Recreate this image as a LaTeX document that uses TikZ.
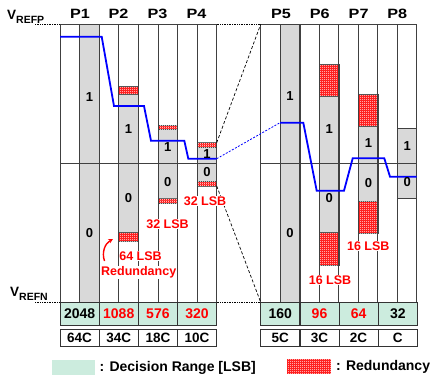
\documentclass[tikz,border=0pt]{standalone}
\usepackage{fontspec}
\setmainfont{Liberation Sans}
\usetikzlibrary{patterns,arrows.meta,positioning,calc}

\definecolor{bargray}{RGB}{217,217,217}
\definecolor{decgreen}{RGB}{204,236,222}

\pgfdeclarepatternformonly{finechecker}{\pgfpointorigin}{\pgfqpoint{2pt}{2pt}}{\pgfqpoint{2pt}{2pt}}{
    \pgfpathrectangle{\pgfpointorigin}{\pgfqpoint{1pt}{1pt}}
    \pgfpathrectangle{\pgfqpoint{1pt}{1pt}}{\pgfqpoint{1pt}{1pt}}
    \pgfusepath{fill}}

\newcommand{\widetext}[1]{\scalebox{1.2}[1]{#1}}

\begin{document}
\begin{tikzpicture}[
    x=1pt, y=-1pt,
    grid/.style={draw=black!75, line width=0.8pt},
    bar/.style={draw=black!75, line width=0.8pt, fill=bargray},
    redund/.style={draw=black!75, line width=0.8pt, fill=red, postaction={pattern=finechecker, pattern color=white}},
    bit/.style={font=\fontsize{13}{13}\selectfont\bfseries, inner sep=0pt},
    plab/.style={font=\fontsize{13.5}{13.5}\selectfont\bfseries, anchor=base},
    deccell/.style={draw=black!80, line width=0.8pt, fill=decgreen, minimum width=39.17pt, minimum height=23.4pt, inner sep=0pt, font=\fontsize{14}{14}\selectfont\bfseries},
    capcell/.style={draw=black!80, line width=0.8pt, fill=white, minimum width=39.17pt, minimum height=17.4pt, inner sep=0pt, font=\fontsize{13.5}{13.5}\selectfont\bfseries},
    note/.style={text=red, fill=white, font=\fontsize{12.5}{12.5}\selectfont\bfseries, inner sep=0.5pt},
    vref/.style={anchor=base west, inner sep=0pt, font=\bfseries},
    legtext/.style={anchor=west, inner sep=0pt, font=\fontsize{14}{14}\selectfont\bfseries},
    trace/.style={draw=blue, line width=1.8pt},
    zoomline/.style={draw=black, line width=0.7pt, dash pattern=on 3pt off 2pt},
    refline/.style={draw=black, line width=0.7pt, densely dotted}
]
    \useasboundingbox (0,0) rectangle (439,381);

    % gray bars and redundancy, left group
    \draw[bar] (79.6,24.3) rectangle (99.2,302.3);
    \draw[bar] (118.8,94.3) rectangle (138.3,232.7);
    \draw[redund] (118.8,86) rectangle (138.3,94.3);
    \draw[redund] (118.8,232.7) rectangle (138.3,241.7);
    \draw[bar] (157.9,129.3) rectangle (177.5,198.7);
    \draw[redund] (157.9,125.3) rectangle (177.5,129.3);
    \draw[redund] (157.9,198.7) rectangle (177.5,203.3);
    \draw[bar] (197.1,147) rectangle (216.7,181.7);
    \draw[redund] (197.1,142.7) rectangle (216.7,147);
    \draw[redund] (197.1,181.7) rectangle (216.7,186);

    % gray bars and redundancy, right group
    \draw[bar] (280.3,24.3) rectangle (299.9,302.3);
    \draw[bar] (319.5,96.7) rectangle (339,232.7);
    \draw[redund] (319.5,64.3) rectangle (339,96.7);
    \draw[redund] (319.5,232.7) rectangle (339,265.7);
    \draw[bar] (358.6,126.7) rectangle (378.2,201);
    \draw[redund] (358.6,94.3) rectangle (378.2,126.7);
    \draw[redund] (358.6,201) rectangle (378.2,233.3);
    \draw[bar] (397.8,128.7) rectangle (416.7,198.3);

    % column lines and frames
    \foreach \k in {1,...,7} {
        \draw[grid] (60+19.585*\k,24.3) -- (60+19.585*\k,302.3);
        \draw[grid] (260.7+19.5*\k,24.3) -- (260.7+19.5*\k,302.3);
    }
    \draw[grid] (60,163.3) -- (216.7,163.3);
    \draw[grid] (260.7,163.3) -- (416.7,163.3);
    \draw[grid] (60,24.3) rectangle (216.7,302.3);
    \draw[grid] (260.7,24.3) rectangle (416.7,302.3);

    % reference levels
    \draw[refline] (35,24.3) -- (60,24.3);
    \draw[refline] (216.7,24.3) -- (260.7,24.3);
    \draw[refline] (35,302.3) -- (60,302.3);
    \draw[refline] (216.7,302.3) -- (260.7,302.3);
    \node[vref] (vrefp) at (7,19.3) {{\fontsize{13.5}{13.5}\selectfont V}{\fontsize{10.5}{10.5}\selectfont\raisebox{-4pt}{REFP}}};
    \node[vref] (vrefn) at (10,296.7) {{\fontsize{13.5}{13.5}\selectfont V}{\fontsize{10.5}{10.5}\selectfont\raisebox{-4pt}{REFN}}};

    % zoom lines
    \coordinate (p4top) at (216.7,142.7);
    \coordinate (p4bot) at (216.7,186);
    \coordinate (rtop) at (260.7,24.3);
    \coordinate (rbot) at (260.7,302.3);
    \draw[zoomline] (p4top) -- (rtop);
    \draw[zoomline] (p4bot) -- (rbot);

    % DAC output
    \draw[trace] (60,36.7) -- (101.7,36.7) -- (114,106) -- (144,106) -- (151,140.7)
        -- (184.3,140.7) -- (188.3,158.7) -- (216.7,158.7);
    \draw[blue, line width=0.8pt, dash pattern=on 2pt off 1.5pt] (216.7,158.7) -- (280,122.7);
    \draw[trace] (280,122.7) -- (303.3,122.7) -- (316.7,190.7) -- (344,190.7) -- (352.7,158.3)
        -- (384.3,158.3) -- (390,176.7) -- (416.7,176.7);

    % phase labels
    \node[plab] (P1) at (80,18.3) {\widetext{P1}};
    \node[plab] (P2) at (118.5,18.3) {\widetext{P2}};
    \node[plab] (P3) at (157.5,18.3) {\widetext{P3}};
    \node[plab] (P4) at (196.5,18.3) {\widetext{P4}};
    \node[plab] (P5) at (281,18.3) {\widetext{P5}};
    \node[plab] (P6) at (319.7,18.3) {\widetext{P6}};
    \node[plab] (P7) at (358.6,18.3) {\widetext{P7}};
    \node[plab] (P8) at (397.3,18.3) {\widetext{P8}};

    % bit labels
    \node[bit] (b1h) at (89.4,96.7) {1};
    \node[bit] (b1l) at (89.4,233) {0};
    \node[bit] (b2h) at (128.5,129.3) {1};
    \node[bit] (b2l) at (128.5,198.3) {0};
    \node[bit] (b3h) at (167.7,146.7) {1};
    \node[bit] (b3l) at (167.7,181.7) {0};
    \node[bit] (b4h) at (206.9,154) {1};
    \node[bit] (b4l) at (206.9,172.3) {0};
    \node[bit] (b5h) at (290.1,95.7) {1};
    \node[bit] (b5l) at (290.1,233) {0};
    \node[bit] (b6h) at (329.3,129.3) {1};
    \node[bit] (b6l) at (329.3,198.3) {0};
    \node[bit] (b7h) at (368.4,142.7) {1};
    \node[bit] (b7l) at (368.4,182.7) {0};
    \node[bit] (b8h) at (407.3,145.7) {1};
    \node[bit] (b8l) at (407.3,181.7) {0};

    % redundancy notes
    \node[note] (n1) at (205,201) {32 LSB};
    \node[note] (n2) at (167.5,224) {32 LSB};
    \node[note] (n3) at (140.5,256) {64 LSB};
    \node[note] (n4) at (138.7,272.5) {Redundancy};
    \node[note] (n5) at (330,280) {16 LSB};
    \node[note] (n6) at (368.3,246.3) {16 LSB};
    \coordinate (a1) at (104.5,261);
    \coordinate (a2) at (113,239);
    \draw[red, line width=1.4pt, -{Stealth[length=4.5pt,width=4.5pt]}] (a1) to[bend left=40] (a2);

    % decision range row
    \node[deccell] (d1) at (79.6,314) {2048};
    \node[deccell, text=red] (d2) at (118.75,314) {1088};
    \node[deccell, text=red] (d3) at (157.9,314) {576};
    \node[deccell, text=red] (d4) at (197.1,314) {320};
    \node[deccell] (d5) at (280.3,314) {160};
    \node[deccell, text=red] (d6) at (319.5,314) {96};
    \node[deccell, text=red] (d7) at (358.6,314) {64};
    \node[deccell] (d8) at (397.8,314) {32};

    % capacitor row
    \node[capcell] (c1) at (79.6,338) {64C};
    \node[capcell] (c2) at (118.75,338) {34C};
    \node[capcell] (c3) at (157.9,338) {18C};
    \node[capcell] (c4) at (197.1,338) {10C};
    \node[capcell] (c5) at (280.3,338) {5C};
    \node[capcell] (c6) at (319.5,338) {3C};
    \node[capcell] (c7) at (358.6,338) {2C};
    \node[capcell] (c8) at (397.8,338) {C};

    % legend
    \node[fill=decgreen, minimum width=43.3pt, minimum height=15pt, inner sep=0pt] (lg1) at (73.3,367.5) {};
    \node[legtext] (lt1) at (99.5,367.5) {: Decision Range [LSB]};
    \node[redund, draw=none, minimum width=44.3pt, minimum height=15.3pt, inner sep=0pt] (lg2) at (308.8,366.7) {};
    \node[legtext] (lt2) at (336,367) {: Redundancy};

\end{tikzpicture}
\end{document}
